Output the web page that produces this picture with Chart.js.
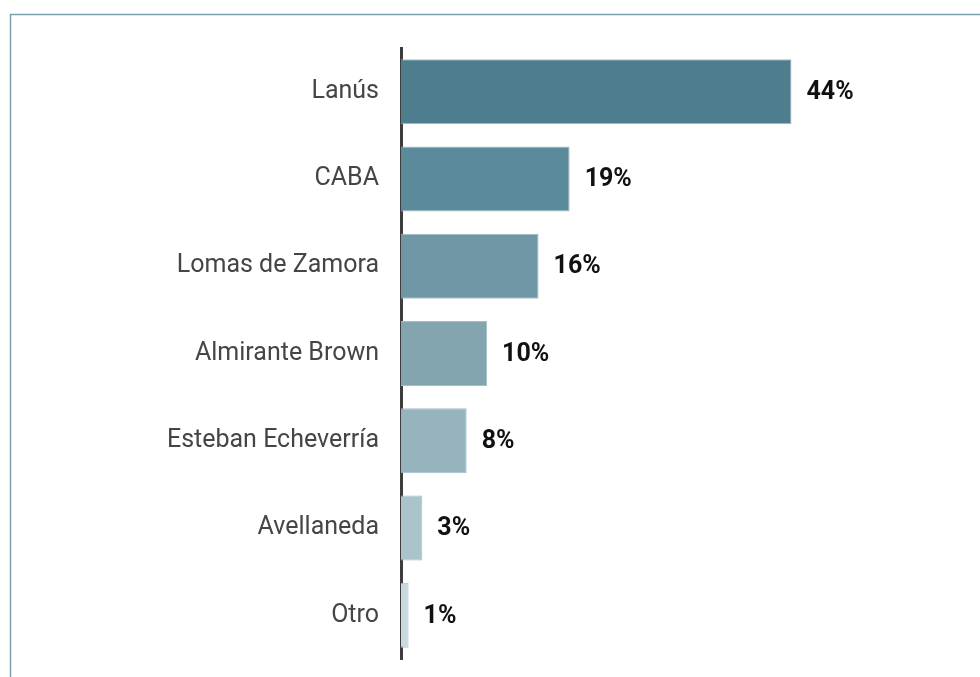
<!DOCTYPE html>
<html>
<head>
<meta charset="utf-8">
<script src="https://cdn.jsdelivr.net/npm/chart.js@4/dist/chart.umd.min.js"></script>
<style>
	html, body { margin: 0; padding: 0; background: #ffffff; }
	#wrap { position: relative; width: 980px; height: 677px; }
</style>
</head>
<body>
<div id="wrap"><canvas id="chart"></canvas></div>
<script>
// данные
const categories = ['Lanús', 'CABA', 'Lomas de Zamora', 'Almirante Brown', 'Esteban Echeverría', 'Avellaneda', 'Otro'];
const shares = [44, 19, 15.5, 9.7, 7.4, 2.4, 0.85];
const shareLabels = ['44%', '19%', '16%', '10%', '8%', '3%', '1%'];
const barColors = ['#4e7d8e', '#5b8a9a', '#7097a5', '#82a5b0', '#97b4be', '#abc3cb', '#c9d9df'];

// рамка сверху и слева
const frameLines = {
	id: 'frameLines',
	beforeDraw(chart) {
		const { ctx, width, height } = chart;
		ctx.save();
		ctx.strokeStyle = '#7ca1ac';
		ctx.lineWidth = 1.5;
		ctx.beginPath();
		ctx.moveTo(10.5, height);
		ctx.lineTo(10.5, 14.5);
		ctx.lineTo(width, 14.5);
		ctx.stroke();
		ctx.restore();
	},
};

// подписи значений справа от столбцов
const valueLabels = {
	id: 'valueLabels',
	afterDatasetsDraw(chart) {
		const { ctx } = chart;
		const meta = chart.getDatasetMeta(0);
		ctx.save();
		ctx.font = 'bold 25px Roboto';
		ctx.fillStyle = '#111111';
		ctx.textAlign = 'left';
		ctx.textBaseline = 'middle';
		meta.data.forEach((bar, i) => {
			ctx.fillText(shareLabels[i], bar.x + 15, bar.y + 1);
		});
		ctx.restore();
	},
};

new Chart(document.getElementById('chart'), {
	type: 'bar',
	data: {
		labels: categories,
		datasets: [
			{
				data: shares,
				backgroundColor: barColors,
				borderColor: '#a3bfc8',
				borderWidth: 1,
				categoryPercentage: 1,
				barPercentage: 0.745,
			},
		],
	},
	options: {
		indexAxis: 'y',
		responsive: true,
		maintainAspectRatio: false,
		animation: false,
		layout: { padding: { top: 48, bottom: 18, left: 0, right: 46.5 } },
		plugins: {
			legend: { display: false },
			tooltip: { enabled: false },
		},
		scales: {
			x: {
				display: false,
				min: 0,
				max: 60,
			},
			y: {
				z: 1,
				afterFit: (scale) => {
					// фиксированная ширина оси и без лишних отступов сверху/снизу
					scale.width = 401;
					scale.paddingTop = 0;
					scale.paddingBottom = 0;
				},
				grid: { display: false, drawTicks: false },
				border: { display: true, color: '#3d3d3d', width: 3 },
				ticks: {
					padding: 22,
					color: '#454545',
					font: { family: 'Roboto', size: 25 },
				},
			},
		},
	},
	plugins: [frameLines, valueLabels],
});
</script>
</body>
</html>
